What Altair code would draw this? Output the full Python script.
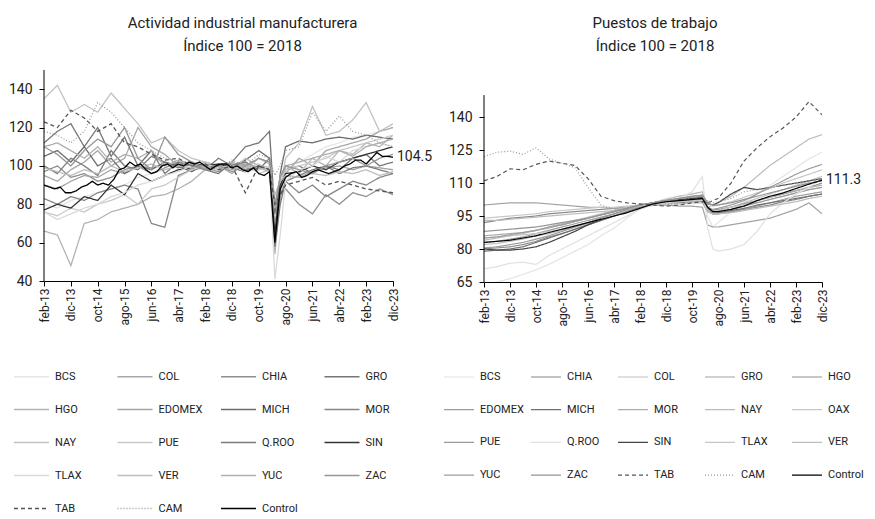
import json
import altair as alt
import pandas as pd

FONT = "Roboto"
INK = "#222222"

# month index: 0 = feb-13 ... 130 = dic-23
MONTHS = list(range(0, 81, 5)) + [84, 86, 88] + list(range(90, 131, 5))
CTRL_MONTHS = list(range(0, 131, 2))
X_TICKS = list(range(0, 131, 10))
X_LABELS = ['feb-13', 'dic-13', 'oct-14', 'ago-15', 'jun-16', 'abr-17', 'feb-18',
            'dic-18', 'oct-19', 'ago-20', 'jun-21', 'abr-22', 'feb-23', 'dic-23']

# ---------------- Left panel: Actividad industrial manufacturera ----------------
L_ORDER = ['BCS', 'COL', 'CHIA', 'GRO', 'HGO', 'EDOMEX', 'MICH', 'MOR', 'NAY', 'PUE',
           'Q.ROO', 'SIN', 'TLAX', 'VER', 'YUC', 'ZAC', 'TAB', 'CAM', 'Control']
L_COLORS = ['#e6e6e6', '#a8a8a8', '#8f8f8f', '#767676', '#b3b3b3', '#a3a3a3', '#6b6b6b',
            '#868686', '#c2c2c2', '#c9c9c9', '#7b7b7b', '#333333', '#dadada', '#bdbdbd',
            '#afafaf', '#969696', '#555555', '#9a9a9a', '#000000']
L_WIDTHS = [1.3] * 18 + [3]
L_DASHES = [[1, 0]] * 16 + [[4, 3], [1, 2], [1, 0]]
L_YTICKS = [40, 60, 80, 100, 120, 140]
L_YDOM = [40, 150]

L_BCS = [80, 78, 82, 84, 86, 88, 90, 94, 96, 98, 100, 101, 99, 100, 102, 100, 104, 102, 60, 84, 98, 102, 106, 110, 112, 115, 116, 118, 120]
L_COL = [95, 92, 98, 102, 108, 100, 104, 120, 110, 106, 100, 98, 102, 100, 96, 102, 98, 100, 70, 90, 96, 104, 100, 108, 110, 112, 114, 118, 120]
L_CHIA = [97, 100, 94, 96, 92, 94, 98, 100, 96, 99, 102, 100, 99, 97, 101, 98, 100, 99, 80, 85, 88, 80, 75, 85, 80, 86, 84, 88, 85]
L_GRO = [112, 118, 122, 110, 120, 105, 115, 100, 108, 96, 102, 100, 98, 96, 102, 110, 112, 118, 75, 95, 98, 100, 96, 100, 98, 104, 106, 100, 102]
L_HGO = [66, 64, 48, 70, 72, 76, 78, 80, 84, 85, 88, 92, 98, 100, 102, 98, 104, 101, 54, 85, 100, 96, 104, 100, 108, 106, 112, 110, 116]
L_EDOMEX = [90, 88, 92, 95, 94, 98, 96, 100, 99, 101, 100, 102, 100, 99, 101, 100, 99, 98, 62, 88, 95, 94, 97, 99, 100, 98, 100, 99, 98]
L_MICH = [105, 108, 102, 110, 100, 104, 96, 100, 98, 102, 100, 97, 101, 99, 100, 103, 108, 104, 62, 96, 110, 113, 112, 114, 115, 114, 116, 115, 114]
L_MOR = [83, 80, 84, 82, 86, 88, 90, 88, 70, 68, 95, 98, 99, 101, 100, 98, 100, 99, 58, 84, 92, 86, 90, 84, 88, 92, 90, 94, 96]
L_NAY = [135, 142, 128, 132, 128, 138, 130, 122, 112, 115, 108, 104, 102, 100, 98, 104, 100, 99, 65, 88, 104, 112, 131, 116, 118, 124, 133, 118, 122]
L_PUE = [76, 74, 78, 76, 80, 82, 85, 80, 88, 90, 94, 98, 100, 99, 100, 102, 96, 98, 66, 86, 98, 100, 102, 104, 108, 110, 112, 114, 116]
L_QROO = [100, 96, 104, 100, 95, 108, 100, 98, 105, 102, 99, 101, 98, 104, 100, 102, 98, 104, 58, 80, 92, 95, 98, 100, 96, 99, 100, 98, 96]
L_SIN = [77, 80, 78, 84, 82, 90, 85, 96, 92, 95, 98, 99, 100, 101, 99, 97, 100, 98, 65, 90, 96, 97, 100, 98, 102, 104, 106, 108, 110]
L_TLAX = [76, 72, 75, 78, 80, 84, 86, 90, 92, 95, 97, 100, 101, 99, 100, 97, 98, 100, 41, 64, 92, 98, 100, 105, 102, 108, 110, 112, 110]
L_VER = [99, 97, 95, 98, 96, 100, 97, 99, 101, 98, 100, 99, 100, 98, 100, 99, 101, 97, 85, 92, 95, 94, 96, 95, 97, 96, 98, 95, 97]
L_YUC = [110, 112, 108, 104, 110, 102, 106, 104, 108, 100, 103, 101, 99, 100, 98, 101, 99, 97, 78, 95, 100, 102, 104, 106, 108, 105, 110, 112, 114]
L_ZAC = [110, 106, 100, 108, 114, 110, 120, 104, 98, 115, 106, 102, 98, 100, 97, 100, 104, 102, 80, 94, 100, 98, 96, 100, 102, 104, 100, 104, 106]
L_TAB = [123, 120, 129, 125, 118, 122, 112, 110, 106, 103, 104, 100, 101, 98, 100, 86, 100, 98, 80, 85, 90, 92, 94, 90, 92, 90, 88, 87, 86]
L_CAM = [118, 116, 112, 118, 133, 128, 120, 112, 108, 104, 102, 100, 100, 99, 103, 100, 106, 104, 95, 100, 108, 110, 128, 118, 126, 118, 116, 112, 110]
L_CONTROL = [90, 89, 88, 89, 86, 86, 87, 89, 90, 92,
             90, 91, 90, 93, 98, 99, 102, 100, 101, 98,
             96, 97, 100, 101, 99, 101, 100, 102, 101, 102,
             100, 98, 100, 101, 101, 99, 100, 98, 97, 99,
             96, 95, 97, 60, 88, 94, 96, 97, 94, 95,
             97, 98, 97, 96, 97, 98, 100, 101, 103, 103,
             101, 104, 107, 105, 105, 104.5]

# ---------------- Right panel: Puestos de trabajo ----------------
R_ORDER = ['BCS', 'CHIA', 'COL', 'GRO', 'HGO', 'EDOMEX', 'MICH', 'MOR', 'NAY', 'OAX',
           'PUE', 'Q.ROO', 'SIN', 'TLAX', 'VER', 'YUC', 'ZAC', 'TAB', 'CAM', 'Control']
R_COLORS = ['#e4e4e4', '#888888', '#c0c0c0', '#a2a2a2', '#8f8f8f', '#9c9c9c', '#707070',
            '#adadad', '#bbbbbb', '#c8c8c8', '#9a9a9a', '#e0e0e0', '#444444', '#c6c6c6',
            '#bcbcbc', '#9d9d9d', '#939393', '#555555', '#9a9a9a', '#000000']
R_WIDTHS = [1.2] * 15 + [2.5, 1.2, 1.4, 1.4, 3]
R_DASHES = [[1, 0]] * 17 + [[4, 3], [1, 2], [1, 0]]
R_YTICKS = [65, 80, 95, 110, 125, 140]
R_AXIS_RANGE = [65, 150]
R_YDOM = [65, 161.4]   # plot box taller than the axis line, as in the reference

R_BCS = [64, 65, 66.5, 68.5, 70.5, 73, 76, 79, 82, 86, 89.5, 94, 98.5, 101, 103, 104, 105, 106, 95, 90, 92, 97, 101, 105, 109, 113, 117, 121, 124]
R_CHIA = [92, 93, 94, 94.5, 95, 96, 96.5, 97, 97.5, 98, 98.5, 99, 100, 100.5, 101, 101, 101.5, 101.5, 97, 96, 96, 97, 98, 99, 100, 101.5, 102.5, 104, 105]
R_COL = [82, 82.5, 83.5, 84.5, 86, 87, 88.5, 90, 91.5, 93, 95, 97, 99, 100.5, 101.5, 102, 102.5, 103, 99, 97, 97.5, 99, 101, 103, 105, 107, 109, 111, 113]
R_GRO = [100, 100.5, 101, 101, 101, 100.5, 100, 99.5, 99, 99, 98.5, 99, 99.5, 100, 100, 99.5, 99.5, 99, 91, 90, 90, 91, 92, 93, 94, 96, 98, 101, 96]
R_HGO = [80, 80.5, 81, 82, 83.5, 85.5, 87, 89, 91, 93, 95, 97, 99.5, 101, 102, 102.5, 103, 103.5, 99, 97.5, 98, 99, 100.5, 102, 103.5, 105, 106.5, 108, 110]
R_EDOMEX = [83, 83.5, 84.5, 85.5, 87, 88.5, 90, 91.5, 93, 94.5, 96, 97.5, 99, 100.5, 101.5, 102, 102.5, 102.5, 98, 96, 96, 97, 98, 99.5, 101, 102.5, 104, 105, 106]
R_MICH = [79, 79.5, 80, 81, 83, 85, 87, 89, 91, 93, 95, 97, 99, 100.5, 101.5, 102, 102.5, 103, 98.5, 96.5, 96.5, 97.5, 98.5, 100, 101, 102, 103, 104, 105]
R_MOR = [86, 86.5, 87, 87.5, 88.5, 89.5, 91, 92.5, 94, 95.5, 97, 98.5, 100, 101, 102, 102.5, 103, 103.5, 99, 97, 97.5, 99, 100.5, 102, 103.5, 105, 106.5, 108, 109]
R_NAY = [84, 85, 86, 87, 88.5, 90, 91.5, 93, 94.5, 96, 97.5, 99, 100, 101, 102.5, 104, 105, 106, 99, 100, 101, 104, 108, 113, 118, 122, 126, 130, 132]
R_OAX = [94, 94.5, 95, 95.5, 96, 97, 97.5, 98, 98.5, 99, 99, 99.5, 100, 100.5, 101, 101.5, 102, 102, 98, 97, 97.5, 99, 100, 101, 102.5, 104, 105.5, 107, 108]
R_PUE = [80.5, 81, 82, 83, 84.5, 86, 88, 90, 92, 94, 96, 98, 100, 101, 102, 102.5, 103, 103, 98.5, 96.5, 97, 98, 99.5, 101, 102.5, 104, 105.5, 107, 108]
R_QROO = [71, 72, 73.5, 74, 73, 77, 80, 83, 86, 89, 92, 95, 98, 100, 101, 103, 106, 113, 90, 80, 79, 80, 82, 88, 96, 101, 105, 108, 112]
R_SIN = [80, 79.5, 79.5, 80, 81, 83, 85.5, 88, 91, 93.5, 95.5, 97.5, 99.5, 101, 102, 102.5, 103, 103.5, 100.5, 100, 101, 105, 108, 107, 108, 109, 110, 111, 112]
R_TLAX = [85, 85.5, 86, 86.5, 87, 88, 89, 90.5, 92, 93.5, 95.5, 97.5, 99.5, 101, 102, 103, 104, 104.5, 101, 99.5, 100, 101.5, 103.5, 105.5, 107.5, 110, 112, 114, 116]
R_VER = [93, 93, 93.5, 94, 94.5, 95, 95.5, 96, 96.5, 97, 97.5, 98.5, 99.5, 100, 100.5, 100.5, 101, 101, 97, 96, 96, 96.5, 97.5, 98.5, 99.5, 100.5, 101.5, 103, 104]
R_YUC = [85, 85.5, 86.5, 87.5, 88.5, 90, 91, 92.5, 94, 95.5, 97, 98.5, 100, 101, 102, 103, 103.5, 104, 99, 98, 98.5, 100, 102, 105, 108, 111, 114, 116.5, 118.5]
R_ZAC = [88, 88.5, 89, 89.5, 90, 91, 92, 93, 94, 95.5, 97, 98.5, 100, 101, 102, 103, 104, 104.5, 101, 100, 100, 101, 102.5, 104, 105.5, 107, 108.5, 110, 111]
R_TAB = [111, 113, 116.5, 116, 118.5, 120, 119, 118, 112, 104, 102, 101, 100.5, 100, 99.5, 100, 101, 101.5, 101, 102, 103, 110, 120, 126, 131, 135, 140, 147, 141]
R_CAM = [122, 124, 124.5, 123, 126, 121, 119, 117, 108, 100, 98, 98, 99, 100, 100, 101, 104, 103.5, 102, 101, 101.5, 103, 106, 107, 108, 109, 110, 111, 112]
R_CONTROL = [83, 83.5, 84, 85, 86, 87.5, 89, 90.5, 92, 93.5, 95, 96.5, 98.5, 100.5, 101.5, 102, 102.5, 103, 99, 97, 97, 98, 99.5, 102, 104, 105.5, 107.5, 109.5, 111.3]

L_SERIES = {'BCS': L_BCS, 'COL': L_COL, 'CHIA': L_CHIA, 'GRO': L_GRO, 'HGO': L_HGO,
            'EDOMEX': L_EDOMEX, 'MICH': L_MICH, 'MOR': L_MOR, 'NAY': L_NAY, 'PUE': L_PUE,
            'Q.ROO': L_QROO, 'SIN': L_SIN, 'TLAX': L_TLAX, 'VER': L_VER, 'YUC': L_YUC,
            'ZAC': L_ZAC, 'TAB': L_TAB, 'CAM': L_CAM}
R_SERIES = {'BCS': R_BCS, 'CHIA': R_CHIA, 'COL': R_COL, 'GRO': R_GRO, 'HGO': R_HGO,
            'EDOMEX': R_EDOMEX, 'MICH': R_MICH, 'MOR': R_MOR, 'NAY': R_NAY, 'OAX': R_OAX,
            'PUE': R_PUE, 'Q.ROO': R_QROO, 'SIN': R_SIN, 'TLAX': R_TLAX, 'VER': R_VER,
            'YUC': R_YUC, 'ZAC': R_ZAC, 'TAB': R_TAB, 'CAM': R_CAM}


def long_frame(series, control, ctrl_months):
    rows = []
    for name, vals in series.items():
        for t, v in zip(MONTHS, vals):
            rows.append({'s': name, 't': t, 'v': v})
    for t, v in zip(ctrl_months, control):
        rows.append({'s': 'Control', 't': t, 'v': v})
    return pd.DataFrame(rows)


LABEL_EXPR = json.dumps(X_LABELS) + "[round(datum.value / 10)]"


def panel(df, order, colors, widths, dashes, ydom, yvals, axis_range, w, h, title,
          title_dx, end_val, cols, lx, ly, colpad, rowpad, sym):
    leg = alt.Legend(title=None, orient='none', legendX=lx, legendY=ly,
                     direction='horizontal', columns=cols, symbolType='stroke',
                     symbolSize=sym * sym, labelFont=FONT, labelFontSize=11,
                     labelColor=INK, rowPadding=rowpad, columnPadding=colpad,
                     gridAlign='all', labelOffset=5, labelLimit=120)
    x = alt.X('t:Q', scale=alt.Scale(domain=[0, 130], nice=False, zero=False),
              axis=alt.Axis(values=X_TICKS, tickCount=len(X_TICKS), labelExpr=LABEL_EXPR,
                            labelAngle=-90, title=None, grid=False, labelFont=FONT,
                            labelFontSize=12, labelColor=INK, domainColor='#000',
                            tickColor='#000', tickSize=5, labelPadding=2,
                            labelOverlap=False, labelBound=False, labelFlush=False))
    y = alt.Y('v:Q', scale=alt.Scale(domain=ydom, nice=False, zero=False),
              axis=alt.Axis(values=yvals, tickCount=len(yvals), title=None, grid=False,
                            labelFont=FONT, labelFontSize=14, labelColor=INK,
                            domain=False, tickColor='#000', tickSize=5, labelPadding=7,
                            labelOverlap=False))
    enc = dict(
        x=x, y=y,
        color=alt.Color('s:N', scale=alt.Scale(domain=order, range=colors), legend=leg),
        strokeWidth=alt.StrokeWidth('s:N', scale=alt.Scale(domain=order, range=widths), legend=leg),
        strokeDash=alt.StrokeDash('s:N', scale=alt.Scale(domain=order, range=dashes), legend=leg),
    )
    base = alt.Chart(df)
    others = base.transform_filter(alt.datum.s != 'Control').mark_line(clip=True).encode(**enc)
    ctrl = base.transform_filter(alt.datum.s == 'Control').mark_line(clip=True).encode(**enc)
    axis_df = pd.DataFrame({'t': [0], 'v': [axis_range[0]], 'v2': [axis_range[1]]})
    yline = alt.Chart(axis_df).mark_rule(color='#000', strokeWidth=1).encode(
        x='t:Q', y='v:Q', y2='v2:Q')
    lab_df = pd.DataFrame({'t': [130], 'v': [end_val], 'txt': [f"{end_val:.1f}"]})
    lab = alt.Chart(lab_df).mark_text(align='left', baseline='middle', dx=4, font=FONT,
                                      fontSize=14, color=INK).encode(
        x='t:Q', y='v:Q', text='txt:N')
    return alt.layer(others, ctrl, yline, lab).properties(
        width=w, height=h,
        title=alt.TitleParams(text=title, font=FONT, fontSize=15, fontWeight='normal',
                              color=INK, anchor='middle', offset=16, dx=title_dx,
                              lineHeight=23))


left = panel(long_frame(L_SERIES, L_CONTROL, CTRL_MONTHS), L_ORDER, L_COLORS, L_WIDTHS,
             L_DASHES, L_YDOM, L_YTICKS, L_YDOM, 349, 211,
             ['Actividad industrial manufacturera', 'Índice 100 = 2018'], 24,
             L_CONTROL[-1], 4, -31, 288, 15.5, 9, 35)
right = panel(long_frame(R_SERIES, R_CONTROL, MONTHS), R_ORDER, R_COLORS, R_WIDTHS,
              R_DASHES, R_YDOM, R_YTICKS, R_AXIS_RANGE, 338, 212,
              ['Puestos de trabajo', 'Índice 100 = 2018'], 2,
              R_CONTROL[-1], 5, -41, 291, 4, 11.7, 30)

chart = alt.hconcat(left, right, spacing=10).resolve_scale(
    color='independent', strokeWidth='independent', strokeDash='independent',
    x='independent', y='independent'
).configure(padding={'left': 0, 'top': 7, 'right': 0, 'bottom': 0},
            background='white').configure_view(stroke=None)

chart.save("out.html", embed_options={"renderer": "svg", "actions": False})
